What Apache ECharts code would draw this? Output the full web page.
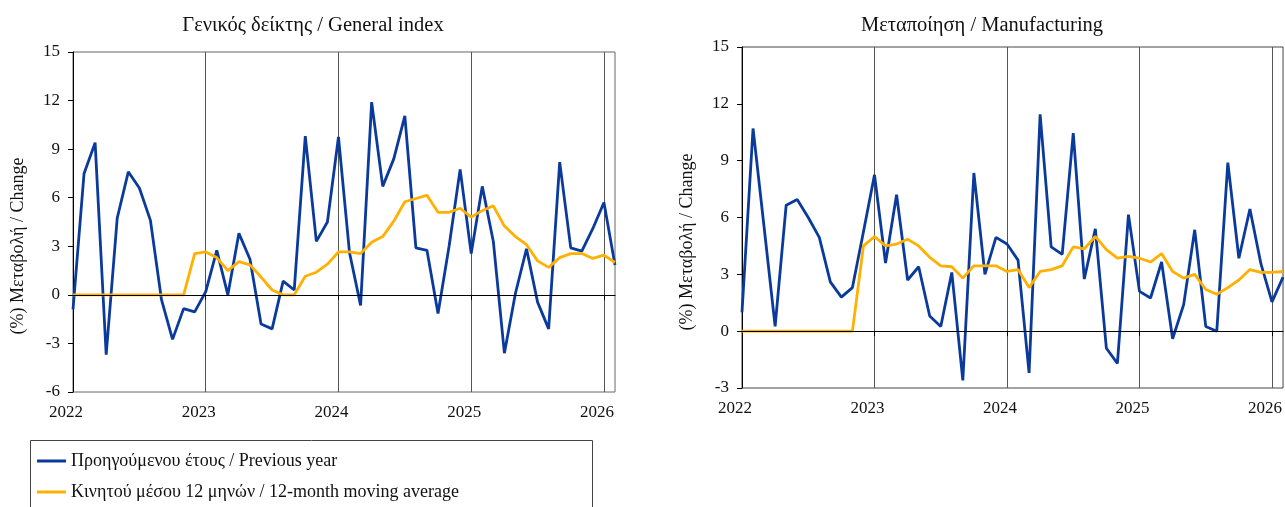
<!DOCTYPE html>
<html>
<head>
<meta charset="utf-8">
<script src="https://cdn.jsdelivr.net/npm/echarts@6/dist/echarts.min.js"></script>
<style>
html,body{margin:0;padding:0;background:#fff;}
#c{width:1285px;height:507px;}
</style>
</head>
<body>
<div id="c"></div>
<script>
// Categories: monthly, Jan 2022 - Feb 2026
const months = [
'2022-01','2022-02','2022-03','2022-04','2022-05','2022-06','2022-07','2022-08','2022-09','2022-10','2022-11','2022-12',
'2023-01','2023-02','2023-03','2023-04','2023-05','2023-06','2023-07','2023-08','2023-09','2023-10','2023-11','2023-12',
'2024-01','2024-02','2024-03','2024-04','2024-05','2024-06','2024-07','2024-08','2024-09','2024-10','2024-11','2024-12',
'2025-01','2025-02','2025-03','2025-04','2025-05','2025-06','2025-07','2025-08','2025-09','2025-10','2025-11','2025-12',
'2026-01','2026-02'];
const yTicksLeft = [-6,-3,0,3,6,9,12,15];
const yTicksRight = [-3,0,3,6,9,12,15];

const seriesNames = ['Προηγούμενου έτους / Previous year', 'Κινητού μέσου 12 μηνών / 12-month moving average'];
const titles = ['Γενικός δείκτης / General index', 'Μεταποίηση / Manufacturing'];
const yName = '(%) Μεταβολή / Change';

// General index
const generalPrev = [
-0.9, 7.5, 9.4, -3.7, 4.75, 7.6, 6.6, 4.6, -0.3, -2.75, -0.85, -1.05,
0.2, 2.75, 0.0, 3.8, 2.2, -1.8, -2.1, 0.85, 0.3, 9.8, 3.3, 4.5,
9.75, 2.6, -0.65, 11.9, 6.7, 8.4, 11.05, 2.9, 2.75, -1.15, 3.0, 7.75,
2.55, 6.7, 3.3, -3.6, 0.1, 2.85, -0.45, -2.1, 8.2, 2.9, 2.7, 4.1,
5.7, 1.85];
const generalMA = [
0, 0, 0, 0, 0, 0, 0, 0, 0, 0, 0, 2.55,
2.65, 2.3, 1.5, 2.05, 1.85, 1.1, 0.3, 0, 0, 1.15, 1.4, 1.9,
2.65, 2.65, 2.55, 3.25, 3.6, 4.55, 5.75, 5.95, 6.15, 5.1, 5.1, 5.35,
4.8, 5.2, 5.5, 4.25, 3.6, 3.1, 2.1, 1.7, 2.3, 2.55, 2.55, 2.25,
2.45, 2.0];

// Manufacturing
const manufPrev = [
1.0, 10.7, 5.5, 0.25, 6.65, 6.95, 6.0, 4.95, 2.6, 1.8, 2.3, 5.25,
8.25, 3.6, 7.2, 2.7, 3.4, 0.8, 0.25, 3.1, -2.6, 8.35, 3.0, 4.95,
4.6, 3.75, -2.2, 11.45, 4.45, 4.05, 10.45, 2.75, 5.4, -0.9, -1.7, 6.15,
2.1, 1.75, 3.65, -0.4, 1.4, 5.35, 0.25, 0.0, 8.9, 3.85, 6.45, 3.55,
1.55, 2.85];
const manufMA = [
0, 0, 0, 0, 0, 0, 0, 0, 0, 0, 0, 4.5,
5.0, 4.5, 4.6, 4.85, 4.5, 3.9, 3.45, 3.4, 2.8, 3.45, 3.45, 3.45,
3.15, 3.25, 2.3, 3.15, 3.25, 3.45, 4.45, 4.35, 5.0, 4.3, 3.85, 3.95,
3.85, 3.65, 4.1, 3.15, 2.8, 3.0, 2.2, 1.95, 2.3, 2.7, 3.25, 3.1,
3.1, 3.15];

const BLUE = '#0a3a9c';
const ORANGE = '#ffb000';
const FONT = "'Liberation Serif', 'DejaVu Serif', serif";

function xAxisFor(gi) {
  return {
    type: 'category', gridIndex: gi, data: months, boundaryGap: false,
    axisLine: {show: true, lineStyle: {color: '#000', width: 1}},
    axisTick: {show: true, length: 5, interval: (i) => i % 12 === 0, lineStyle: {color: '#000'}},
    splitLine: {show: true, interval: (i) => i % 12 === 0, lineStyle: {color: '#555', width: 1}},
    axisLabel: {
      interval: (i) => i % 12 === 0, margin: 12,
      formatter: (v) => v.slice(0, 4),
      color: '#111', fontFamily: FONT, fontSize: 17, padding: [0, 14, 0, 0]
    }
  };
}
function yAxisFor(gi, ticks) {
  return {
    type: 'value', gridIndex: gi, min: ticks[0], max: ticks[ticks.length - 1], interval: 3,
    axisLine: {show: true, lineStyle: {color: '#000', width: 1}},
    axisTick: {show: true, length: 5, lineStyle: {color: '#000'}},
    splitLine: {show: false},
    axisLabel: {margin: 13, color: '#111', fontFamily: FONT, fontSize: 17}
  };
}
function lineSeries(name, data, color, xi, z) {
  return {
    name: name, type: 'line', xAxisIndex: xi, yAxisIndex: xi, data: data,
    showSymbol: false, symbol: 'none', smooth: false, z: z,
    color: color, itemStyle: {color: color},
    lineStyle: {color: color, width: 2.8},
    emphasis: {disabled: true}, animation: false
  };
}
function zeroLine(xi) {
  return {
    name: 'zero' + xi, type: 'line', xAxisIndex: xi, yAxisIndex: xi, data: [],
    z: 1, animation: false,
    markLine: {
      silent: true, symbol: ['none', 'none'], label: {show: false},
      lineStyle: {color: '#000', width: 1, type: 'solid'},
      data: [{yAxis: 0}], animation: false
    }
  };
}
function legendFor(idx, top) {
  return {
    data: [seriesNames[idx]], orient: 'horizontal', left: 37, top: top,
    icon: 'rect', itemWidth: 29, itemHeight: 3, itemGap: 10, padding: 0,
    textStyle: {fontFamily: FONT, fontSize: 18, color: '#111'},
    selectedMode: false
  };
}

const chart = echarts.init(document.getElementById('c'), null, {renderer: 'canvas'});
chart.setOption({
  backgroundColor: '#fff',
  animation: false,
  title: [
    {text: titles[0], left: 308, top: 10, textAlign: 'center',
     textStyle: {fontFamily: FONT, fontSize: 20.5, fontWeight: 'normal', color: '#111'}},
    {text: titles[1], left: 977, top: 10, textAlign: 'center',
     textStyle: {fontFamily: FONT, fontSize: 20.5, fontWeight: 'normal', color: '#111'}}
  ],
  grid: [
    {left: 73, top: 52, width: 542, height: 340, show: true, borderColor: '#666', borderWidth: 1, containLabel: false},
    {left: 742, top: 47, width: 542, height: 341, show: true, borderColor: '#444', borderWidth: 1, containLabel: false}
  ],
  xAxis: [xAxisFor(0), xAxisFor(1)],
  yAxis: [yAxisFor(0, yTicksLeft), yAxisFor(1, yTicksRight)],
  legend: [legendFor(0, 452), legendFor(1, 483)],
  graphic: [
    {type: 'rect', shape: {x: 30.5, y: 440.5, width: 562, height: 90},
     style: {fill: 'none', stroke: '#444', lineWidth: 1}, silent: true},
    {type: 'text', x: 18, y: 246, rotation: Math.PI / 2,
     style: {text: yName, fontFamily: FONT, fontSize: 18, fill: '#111', textAlign: 'center', textVerticalAlign: 'middle'}},
    {type: 'text', x: 687, y: 242, rotation: Math.PI / 2,
     style: {text: yName, fontFamily: FONT, fontSize: 18, fill: '#111', textAlign: 'center', textVerticalAlign: 'middle'}}
  ],
  series: [
    zeroLine(0), zeroLine(1),
    lineSeries(seriesNames[0], generalPrev, BLUE, 0, 3),
    lineSeries(seriesNames[1], generalMA, ORANGE, 0, 4),
    lineSeries(seriesNames[0], manufPrev, BLUE, 1, 3),
    lineSeries(seriesNames[1], manufMA, ORANGE, 1, 4)
  ]
});
</script>
</body>
</html>
